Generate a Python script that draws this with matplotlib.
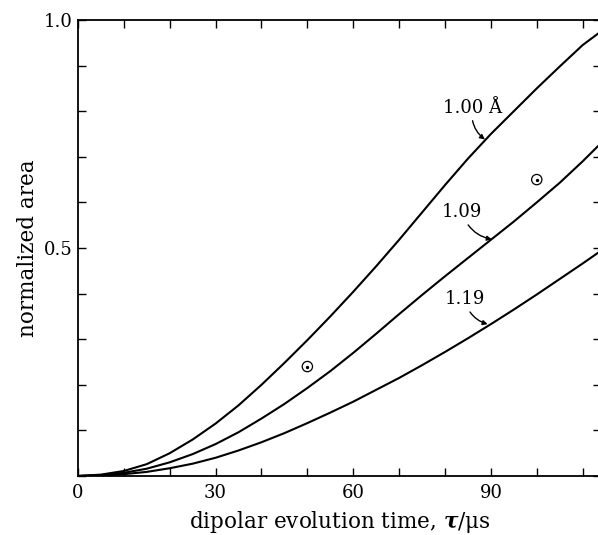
import numpy as np
import matplotlib
matplotlib.use("Agg")
import matplotlib.pyplot as plt

plt.rcParams["font.family"] = ["DejaVu Serif"]
plt.rcParams["mathtext.fontset"] = "dejavuserif"

# dipolar evolution time (us)
tau = [0, 5, 10, 15, 20, 25, 30, 35, 40, 45, 50, 55, 60, 65, 70, 75, 80,
       85, 90, 95, 100, 105, 110, 114]
# normalized area for each bond length
area_100 = [0, 0.003, 0.011, 0.026, 0.050, 0.080, 0.115, 0.155, 0.200, 0.248,
            0.298, 0.350, 0.404, 0.460, 0.518, 0.578, 0.638, 0.696, 0.750,
            0.800, 0.850, 0.898, 0.945, 0.975]
area_109 = [0, 0.002, 0.007, 0.016, 0.030, 0.048, 0.070, 0.096, 0.126, 0.158,
            0.193, 0.230, 0.270, 0.312, 0.355, 0.397, 0.438, 0.478, 0.518,
            0.558, 0.600, 0.643, 0.690, 0.730]
area_119 = [0, 0.001, 0.004, 0.009, 0.017, 0.027, 0.040, 0.056, 0.074, 0.094,
            0.116, 0.139, 0.163, 0.189, 0.215, 0.243, 0.272, 0.302, 0.333,
            0.365, 0.398, 0.432, 0.466, 0.494]

# measured points
exp_tau = [50, 100]
exp_area = [0.24, 0.65]

fig = plt.figure(figsize=(5.98, 5.35), dpi=100)
ax = fig.add_axes([0.1304, 0.1103, 0.8746, 0.8523])

for y in (area_100, area_109, area_119):
    ax.plot(tau, y, color="black", linewidth=1.5)

ax.scatter(exp_tau, exp_area, s=55, facecolors="none", edgecolors="black",
           linewidths=0.9, zorder=3)
ax.scatter(exp_tau, exp_area, s=2, color="black", zorder=3)

arrow = dict(arrowstyle="-|>", color="black", lw=1.0, mutation_scale=7,
             shrinkA=1, shrinkB=0, connectionstyle="arc3,rad=0.3")
ax.annotate("1.00 Å", xy=(88.7, 0.738), xytext=(86.0, 0.808), fontsize=13,
            ha="center", va="center", arrowprops=arrow)
ax.annotate("1.09", xy=(90.2, 0.519), xytext=(83.7, 0.579), fontsize=13,
            ha="center", va="center", arrowprops=arrow)
ax.annotate("1.19", xy=(89.3, 0.333), xytext=(84.3, 0.388), fontsize=13,
            ha="center", va="center", arrowprops=arrow)

ax.set_xlim(0, 114)
ax.set_ylim(0, 1.0)
ax.set_xticks(np.arange(0, 111, 10))
ax.set_xticklabels(["0", "", "", "30", "", "", "60", "", "", "90", "", ""])
ax.set_yticks(np.arange(0, 1.01, 0.1))
ax.set_yticklabels(["", "", "", "", "", "0.5", "", "", "", "", "1.0"])
ax.tick_params(direction="in", length=6, width=1.0, top=True, right=True,
               labelsize=13, colors="black")
ax.tick_params(axis="x", pad=6)
ax.tick_params(axis="y", pad=4)
for side in ("left", "bottom", "top", "right"):
    ax.spines[side].set_linewidth(1.3)

ax.set_xlabel(r"dipolar evolution time, $\boldsymbol{\tau}$/μs", fontsize=15.5,
              labelpad=5)
ax.set_ylabel("normalized area", fontsize=15.5, labelpad=3)

fig.savefig("out.png", dpi=100)
